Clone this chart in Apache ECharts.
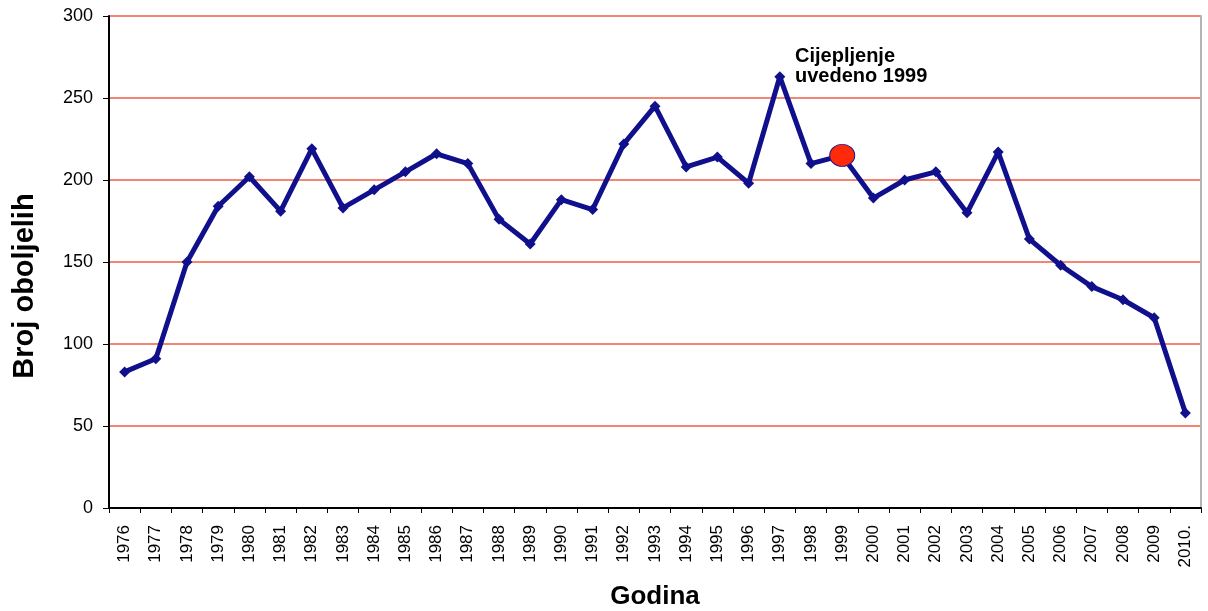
<!DOCTYPE html>
<html>
<head>
<meta charset="utf-8">
<script src="https://cdn.jsdelivr.net/npm/echarts@6/dist/echarts.min.js"></script>
<style>
  html, body { margin: 0; padding: 0; background: #fff; }
  #chart { width: 1208px; height: 611px; }
</style>
</head>
<body>
<div id="chart"></div>
<script>
// godine i broj oboljelih
const years = ['1976','1977','1978','1979','1980','1981','1982','1983','1984','1985',
  '1986','1987','1988','1989','1990','1991','1992','1993','1994','1995',
  '1996','1997','1998','1999','2000','2001','2002','2003','2004','2005',
  '2006','2007','2008','2009','2010.'];
const cases = [83, 91, 150, 184, 202, 181, 219, 183, 194, 205,
  216, 210, 176, 161, 188, 182, 222, 245, 208, 214,
  198, 263, 210, 215, 189, 200, 205, 180, 217, 164,
  148, 135, 127, 116, 58];
const yTicks = [0, 50, 100, 150, 200, 250, 300];
const vaccineYear = '1999';
const noteText = 'Cijepljenje\nuvedeno 1999';

const font = '"Liberation Sans", Arial, sans-serif';
const chart = echarts.init(document.getElementById('chart'));

const data = cases.map((v, i) => {
  if (years[i] !== vaccineYear) return v;
  return {
    value: v,
    symbol: 'circle',
    symbolSize: [25, 22],
    itemStyle: { color: '#ff2a0a', borderColor: '#1a1a8c', borderWidth: 1 }
  };
});

const option = {
  backgroundColor: '#fff',
  animation: false,
  grid: {
    left: 109, right: 7, top: 16, bottom: 103,
    outerBoundsMode: 'none',
    containLabel: false
  },
  xAxis: {
    type: 'category',
    data: years,
    boundaryGap: true,
    name: 'Godina',
    nameLocation: 'middle',
    nameGap: 76,
    nameTextStyle: { fontFamily: font, fontSize: 26, fontWeight: 'bold', color: '#000' },
    axisLine: { lineStyle: { color: '#000', width: 2 } },
    axisTick: { show: true, length: 5, lineStyle: { color: '#000' } },
    axisLabel: { interval: 0, rotate: 90, margin: 17, fontFamily: font, fontSize: 17, color: '#000' },
    splitLine: { show: false }
  },
  yAxis: [{
    type: 'value',
    min: yTicks[0],
    max: yTicks[yTicks.length - 1],
    interval: 50,
    name: 'Broj oboljelih',
    nameLocation: 'middle',
    nameGap: 70,
    nameTextStyle: {
      fontFamily: font, fontSize: 29, fontWeight: 'bold', color: '#000',
      padding: [0, 48, 0, 0]
    },
    axisLine: { show: true, lineStyle: { color: '#000', width: 2 } },
    axisTick: { show: true, length: 6, lineStyle: { color: '#000' } },
    axisLabel: { margin: 16, fontFamily: font, fontSize: 18, color: '#000' },
    splitLine: { show: true, lineStyle: { color: '#f25c45', width: 1.5, type: 'solid' } }
  }, {
    // desni rub okvira
    type: 'value',
    position: 'right',
    min: yTicks[0],
    max: yTicks[yTicks.length - 1],
    interval: 50,
    axisLine: { show: true, lineStyle: { color: '#b4b4b4', width: 2 } },
    axisTick: { show: false },
    axisLabel: { show: false },
    splitLine: { show: false }
  }],
  series: [{
    type: 'line',
    data: data,
    symbol: 'diamond',
    symbolSize: 11,
    lineStyle: { color: '#10108c', width: 5 },
    itemStyle: { color: '#10108c' },
    z: 3
  }],
  graphic: [{
    type: 'text',
    left: 795,
    top: 46,
    style: {
      text: noteText,
      fontFamily: font,
      fontSize: 20,
      fontWeight: 'bold',
      lineHeight: 20,
      fill: '#000'
    }
  }]
};

chart.setOption(option);
</script>
</body>
</html>
